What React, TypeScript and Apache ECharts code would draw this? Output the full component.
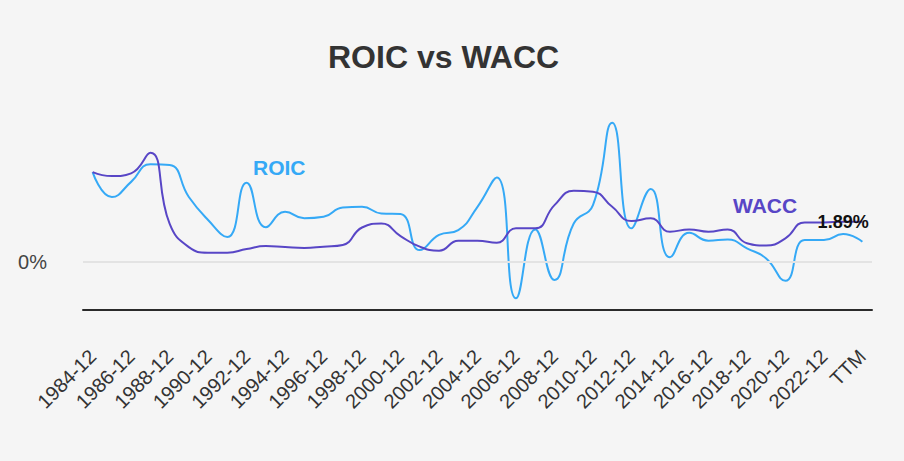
import React, { useEffect, useRef } from "react";
import * as echarts from "echarts";

const categories: string[] = [
  "1984-12","1985-12","1986-12","1987-12","1988-12","1989-12","1990-12","1991-12","1992-12","1993-12",
  "1994-12","1995-12","1996-12","1997-12","1998-12","1999-12","2000-12","2001-12","2002-12","2003-12",
  "2004-12","2005-12","2006-12","2007-12","2008-12","2009-12","2010-12","2011-12","2012-12","2013-12",
  "2014-12","2015-12","2016-12","2017-12","2018-12","2019-12","2020-12","2021-12","2022-12","2023-12","TTM",
];

const roic: number[] = [
  4.22, 3.05, 3.76, 4.59, 4.55, 3.05, 1.97, 1.17, 3.72, 1.63,
  2.36, 2.05, 2.12, 2.56, 2.59, 2.28, 2.25, 0.56, 1.27, 1.5,
  2.59, 3.97, -1.7, 1.53, -0.84, 1.81, 2.67, 6.53, 1.58, 3.42,
  0.22, 1.37, 1.0, 1.06, 0.64, 0.17, -0.88, 1.03, 1.03, 1.31, 0.95,
];

const wacc: number[] = [
  4.22, 4.03, 4.16, 5.12, 1.8, 0.7, 0.44, 0.44, 0.61, 0.75,
  0.7, 0.66, 0.72, 0.8, 1.62, 1.81, 1.22, 0.72, 0.53, 1.0,
  1.0, 0.9, 1.58, 1.58, 2.67, 3.34, 3.3, 2.59, 1.92, 2.05,
  1.42, 1.53, 1.42, 1.53, 0.88, 0.77, 1.11, 1.86, 1.86, 1.89, 1.89,
];

const waccLabelIndex = 39;

const ROIC_COLOR = "#35a9f6";
const WACC_COLOR = "#5846c6";
const FONT = "Arial, 'Liberation Sans', sans-serif";

export default function App() {
  const ref = useRef<HTMLDivElement>(null);
  useEffect(() => {
    if (!ref.current) return;
    const chart = echarts.init(ref.current, undefined, { renderer: "svg" });
    chart.setOption({
      animation: false,
      backgroundColor: "#f5f5f5",
      title: {
        text: "ROIC vs WACC",
        left: 323,
        top: 36,
        textStyle: { fontSize: 32, fontWeight: "bold", color: "#333", fontFamily: FONT },
      },
      grid: { left: 83, right: 32, top: 100, bottom: 151 },
      xAxis: {
        type: "category",
        data: categories,
        boundaryGap: true,
        axisLine: { show: true, onZero: false, lineStyle: { color: "#2a2a2a", width: 2 } },
        axisTick: { show: false },
        axisLabel: {
          interval: 1,
          rotate: 45,
          margin: 43,
          fontSize: 20,
          color: "#333",
          fontFamily: FONT,
        },
        splitLine: { show: false },
      },
      yAxis: {
        type: "value",
        min: -2.25,
        max: 7.6,
        interval: 2.25,
        axisLine: { show: false },
        axisTick: { show: false },
        splitLine: { show: false },
        axisLabel: {
          margin: 36,
          fontSize: 20,
          color: "#444",
          fontFamily: FONT,
          formatter: (v: number) => (Math.abs(v) < 1e-9 ? "0%" : ""),
        },
      },
      graphic: [
        {
          type: "text",
          x: 253,
          y: 167,
          style: { text: "ROIC", fill: ROIC_COLOR, font: `bold 21px ${FONT}`, align: "left", verticalAlign: "middle" },
        },
        {
          type: "text",
          x: 733,
          y: 205,
          style: { text: "WACC", fill: WACC_COLOR, font: `bold 21px ${FONT}`, align: "left", verticalAlign: "middle" },
        },
      ],
      series: [
        {
          name: "ROIC",
          type: "line",
          data: roic,
          smooth: true,
          showSymbol: false,
          symbol: "none",
          lineStyle: { color: ROIC_COLOR, width: 2 },
          itemStyle: { color: ROIC_COLOR },
          markLine: {
            silent: true,
            symbol: "none",
            label: { show: false },
            lineStyle: { color: "#e3e3e3", width: 2, type: "solid" },
            data: [{ yAxis: 0 }],
          },
          z: 2,
        },
        {
          name: "WACC",
          type: "line",
          data: wacc,
          smooth: true,
          showSymbol: false,
          symbol: "none",
          lineStyle: { color: WACC_COLOR, width: 2 },
          itemStyle: { color: WACC_COLOR },
          markPoint: {
            silent: true,
            symbol: "circle",
            symbolSize: 1,
            itemStyle: { color: "rgba(0,0,0,0)" },
            label: {
              show: true,
              position: "inside",
              formatter: (p: any) => Number(p.value).toFixed(2) + "%",
              fontSize: 18,
              fontWeight: "bold",
              color: "#111",
              fontFamily: FONT,
            },
            data: [
              {
                coord: [categories[waccLabelIndex], wacc[waccLabelIndex]],
                value: wacc[waccLabelIndex],
              },
            ],
          },
          z: 3,
        },
      ],
    });
    return () => chart.dispose();
  }, []);
  return <div ref={ref} style={{ position: "absolute", left: 0, top: 0, width: 904, height: 461 }} />;
}
